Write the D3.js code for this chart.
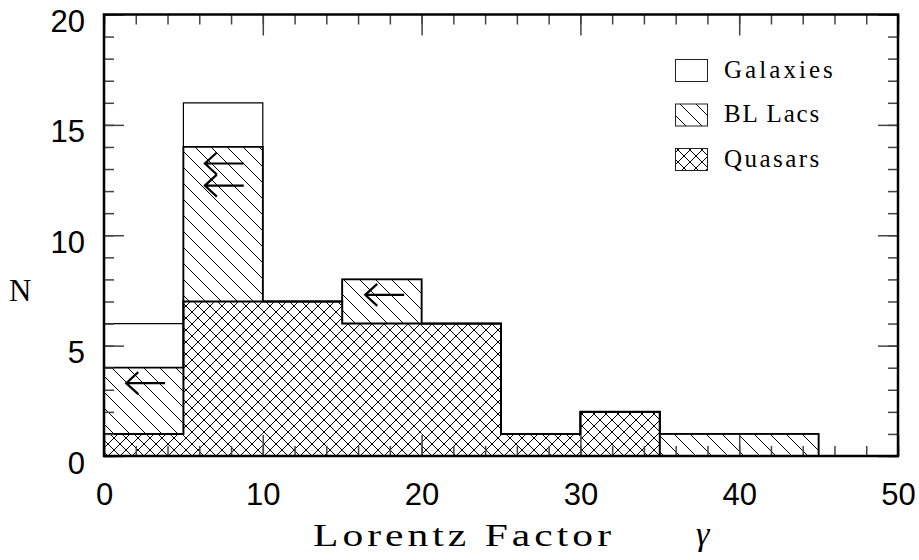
<html>
  <head>
    <script src="https://cdnjs.cloudflare.com/ajax/libs/d3/7.8.5/d3.min.js"></script>
    <style>
      body { margin: 0; background: #fff; }
      svg { display: block; }
      .tick line { stroke: #444; stroke-width: 1.5px; }
      .domain { display: none; }
      .num { font-family: "Liberation Sans", Arial, sans-serif; font-size: 31px; fill: #000; }
      .hershey { font-family: "Liberation Serif", "DejaVu Serif", serif; fill: #000; }
    </style>
  </head>
  <body>
    <svg width="919" height="560"></svg>
    <script>
      // histogram bins (Lorentz factor) and counts per class
      const binEdges = [0, 5, 10, 15, 20, 25, 30, 35, 40, 45];
      const quasars  = [1, 7, 7, 6, 6, 1, 2, 0, 0];
      const blLacs   = [3, 7, 0, 2, 0, 0, 0, 1, 1];
      const galaxies = [2, 2, 0, 0, 0, 0, 0, 0, 0];

      // upper limits drawn as left arrows: [gamma tip, N]
      const limitTips = [[1.4, 3.3], [6.35, 13.25], [6.35, 12.25], [16.45, 7.3]];
      const limitLength = 2.45;

      const xTicks = [0, 10, 20, 30, 40, 50];
      const yTicks = [0, 5, 10, 15, 20];
      const legendNames = ["Galaxies", "BL Lacs", "Quasars"];

      const svg = d3.select("svg");
      const pL = 104, pR = 898, pT = 14.5, pB = 456;

      const x = d3.scaleLinear().domain([0, 50]).range([pL, pR]);
      const y = d3.scaleLinear().domain([0, 20]).range([pB, pT]);

      // hatch patterns
      const defs = svg.append("defs");
      defs.append("pattern")
        .attr("id", "diag").attr("patternUnits", "userSpaceOnUse")
        .attr("width", 16).attr("height", 16)
        .append("path")
        .attr("d", "M0,0L16,16M-4,12L4,20M12,-4L20,4")
        .attr("stroke", "#000").attr("stroke-width", 1);
      defs.append("pattern")
        .attr("id", "cross").attr("patternUnits", "userSpaceOnUse")
        .attr("width", 12).attr("height", 12)
        .append("path")
        .attr("d", "M0,0L12,12M-3,9L3,15M9,-3L15,3M12,0L0,12M-3,3L3,-3M9,15L15,9")
        .attr("stroke", "#000").attr("stroke-width", 1);

      const rows = binEdges.slice(0, -1).map((e, i) => ({
        x0: e, x1: binEdges[i + 1],
        quasars: quasars[i], blLacs: blLacs[i], galaxies: galaxies[i]
      }));
      const stack = d3.stack().keys(["quasars", "blLacs", "galaxies"])(rows);
      const fills = { quasars: "url(#cross)", blLacs: "url(#diag)", galaxies: "none" };

      stack.forEach(layer => {
        svg.append("g").selectAll("rect")
          .data(layer.filter(d => d[1] > d[0]))
          .join("rect")
          .attr("x", d => x(d.data.x0))
          .attr("width", d => x(d.data.x1) - x(d.data.x0))
          .attr("y", d => y(d[1]))
          .attr("height", d => y(d[0]) - y(d[1]))
          .attr("fill", fills[layer.key]);
      });

      // step outlines of the cumulative histograms
      const stepLine = d3.line().x(d => x(d[0])).y(d => y(d[1]));
      function steps(layer) {
        const pts = [[binEdges[0], 0]];
        layer.forEach(d => { pts.push([d.data.x0, d[1]]); pts.push([d.data.x1, d[1]]); });
        pts.push([binEdges[binEdges.length - 1], 0]);
        return pts;
      }
      const widths = { galaxies: 1.2, blLacs: 1.8, quasars: 2 };
      stack.slice().reverse().forEach(layer => {
        svg.append("path")
          .attr("d", stepLine(steps(layer)))
          .attr("fill", "none")
          .attr("stroke", "#000")
          .attr("stroke-width", widths[layer.key]);
      });

      // inward ticks on all four sides
      const minorX = d3.range(0, 51, 2), minorY = d3.range(0, 21, 1);
      svg.append("g").attr("transform", `translate(0,${pB})`)
        .call(d3.axisBottom(x).tickValues(minorX).tickSize(-10).tickFormat(""));
      svg.append("g").attr("transform", `translate(0,${pB})`)
        .call(d3.axisBottom(x).tickValues(xTicks).tickSize(-21).tickPadding(27))
        .selectAll("text").attr("class", "num").attr("font-size", null).attr("font-family", null);
      svg.append("g").attr("transform", `translate(0,${pT})`)
        .call(d3.axisTop(x).tickValues(minorX).tickSize(-10).tickFormat(""));
      svg.append("g").attr("transform", `translate(0,${pT})`)
        .call(d3.axisTop(x).tickValues(xTicks).tickSize(-21).tickFormat(""));
      svg.append("g").attr("transform", `translate(${pL},0)`)
        .call(d3.axisLeft(y).tickValues(minorY).tickSize(-10).tickFormat(""));
      svg.append("g").attr("transform", `translate(${pL},0)`)
        .call(d3.axisLeft(y).tickValues(yTicks).tickSize(-20).tickPadding(19))
        .selectAll("text").attr("class", "num").attr("font-size", null).attr("font-family", null)
        .attr("dy", "0.55em");
      svg.append("g").attr("transform", `translate(${pR},0)`)
        .call(d3.axisRight(y).tickValues(minorY).tickSize(-10).tickFormat(""));
      svg.append("g").attr("transform", `translate(${pR},0)`)
        .call(d3.axisRight(y).tickValues(yTicks).tickSize(-20).tickFormat(""));
      svg.selectAll(".tick text").attr("fill", "#000");

      // frame
      svg.append("rect")
        .attr("x", pL).attr("y", pT)
        .attr("width", pR - pL).attr("height", pB - pT)
        .attr("fill", "none").attr("stroke", "#000").attr("stroke-width", 2.5);

      // upper-limit arrows
      const arrows = svg.append("g").attr("stroke", "#000").attr("stroke-width", 2.2)
        .attr("fill", "none");
      limitTips.forEach(([g, n]) => {
        const tx = x(g), ty = y(n);
        arrows.append("path").attr("d",
          `M${x(g + limitLength)},${ty}L${tx},${ty}M${tx + 12},${ty - 11}L${tx},${ty}L${tx + 12},${ty + 11}`);
      });

      // legend
      const legend = svg.append("g");
      legendNames.forEach((name, i) => {
        const ly = 59 + i * 44.5;
        legend.append("rect")
          .attr("x", 675.5).attr("y", ly + 0.5).attr("width", 32).attr("height", 22)
          .attr("fill", i === 0 ? "#fff" : (i === 1 ? "url(#diag)" : "url(#cross)"))
          .attr("stroke", "#222").attr("stroke-width", 1);
        legend.append("text").attr("class", "hershey")
          .attr("x", 724).attr("y", ly + 18.5)
          .attr("font-size", 25)
          .attr("textLength", name.length * 13.6).attr("lengthAdjust", "spacing")
          .text(name);
      });

      // axis titles
      svg.append("text").attr("class", "hershey")
        .attr("x", 313).attr("y", 546).attr("font-size", 31)
        .attr("letter-spacing", 3)
        .attr("textLength", 302).attr("lengthAdjust", "spacingAndGlyphs")
        .text("Lorentz Factor");
      svg.append("text")
        .attr("x", 696).attr("y", 545)
        .attr("font-family", "Liberation Serif, serif").attr("font-style", "italic")
        .attr("font-size", 34).text("γ");
      svg.append("text")
        .attr("x", 9).attr("y", 301)
        .attr("font-family", "Liberation Serif, serif")
        .attr("font-size", 31).text("N");
    </script>
  </body>
</html>
